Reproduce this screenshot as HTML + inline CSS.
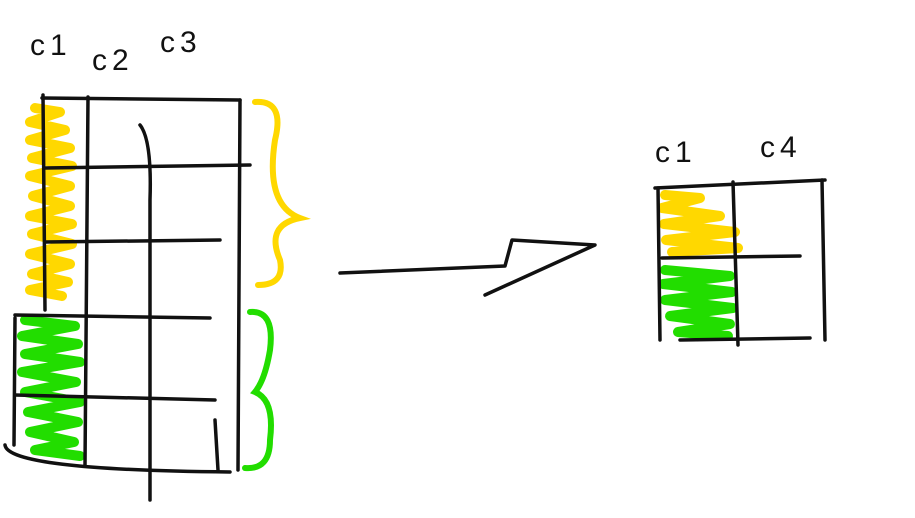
<!DOCTYPE html>
<html><head><meta charset="utf-8"><style>
html,body{margin:0;padding:0;background:#fff;width:915px;height:518px;overflow:hidden}
svg{display:block}
text{font-family:"Liberation Sans",sans-serif;font-size:30px;fill:#111;letter-spacing:5px;font-weight:300}
</style></head><body>
<svg width="915" height="518" viewBox="0 0 915 518">
<g stroke="#ffd800" stroke-width="10" fill="none" stroke-linecap="round" stroke-linejoin="round">
<path d="M35 108 L60 112 L30 122 L65 130 L30 140 L70 148 L32 158 L72 166 L30 176 L70 186 L33 196 L70 206 L30 216 L72 224 L32 234 L72 244 L30 254 L70 264 L32 274 L68 282 L30 290 L62 296"/>
</g>
<g stroke="#22dd00" stroke-width="10" fill="none" stroke-linecap="round" stroke-linejoin="round">
<path d="M25 320 L75 326 L22 336 L78 344 L25 354 L80 362 L22 372 L76 382 L25 392 L80 402 L28 412 L78 422 L30 432 L74 442 L35 450 L80 456"/>
</g>
<g stroke="#111" stroke-width="3.5" fill="none" stroke-linecap="round">
<path d="M43 95 L45 310"/>
<path d="M88 97 L85 465"/>
<path d="M140 125 Q152 140 150 200 L150 500"/>
<path d="M240 100 L238 470"/>
<path d="M42 98 L240 100"/>
<path d="M45 168 L250 165"/>
<path d="M45 242 L220 240"/>
<path d="M15 315 L210 318"/>
<path d="M15 395 L215 400"/>
<path d="M15 318 L14 445"/>
<path d="M5 445 Q8 470 230 472"/>
<path d="M215 420 L218 470"/>
</g>
<g stroke="#ffd800" stroke-width="6" fill="none" stroke-linecap="round">
<path d="M255 102 Q285 100 275 140 Q265 205 300 218 Q265 225 280 260 Q285 285 258 285"/>
</g>
<g stroke="#22dd00" stroke-width="6" fill="none" stroke-linecap="round">
<path d="M250 312 Q275 310 270 350 Q265 380 255 392 Q275 400 270 440 Q270 470 245 468"/>
</g>
<g stroke="#111" stroke-width="3.5" fill="none" stroke-linecap="round" stroke-linejoin="round">
<path d="M340 273 L505 266 L512 240 L595 245 L485 295"/>
</g>
<g stroke="#ffd800" stroke-width="10" fill="none" stroke-linecap="round" stroke-linejoin="round">
<path d="M665 195 L700 198 L662 208 L720 216 L664 224 L735 232 L666 240 L738 248 L672 252"/>
</g>
<g stroke="#22dd00" stroke-width="10" fill="none" stroke-linecap="round" stroke-linejoin="round">
<path d="M665 270 L730 276 L663 284 L732 292 L665 300 L733 308 L670 316 L730 324 L678 332 L728 336"/>
</g>
<g stroke="#111" stroke-width="3.5" fill="none" stroke-linecap="round">
<path d="M655 188 L825 180"/>
<path d="M658 188 L660 340"/>
<path d="M733 182 L738 345"/>
<path d="M822 180 L825 340"/>
<path d="M662 258 L800 256"/>
<path d="M680 340 L810 338"/>
</g>
<text x="30" y="55">c1</text>
<text x="92" y="70">c2</text>
<text x="160" y="52">c3</text>
<text x="655" y="162">c1</text>
<text x="760" y="157">c4</text>
</svg>
</body></html>
